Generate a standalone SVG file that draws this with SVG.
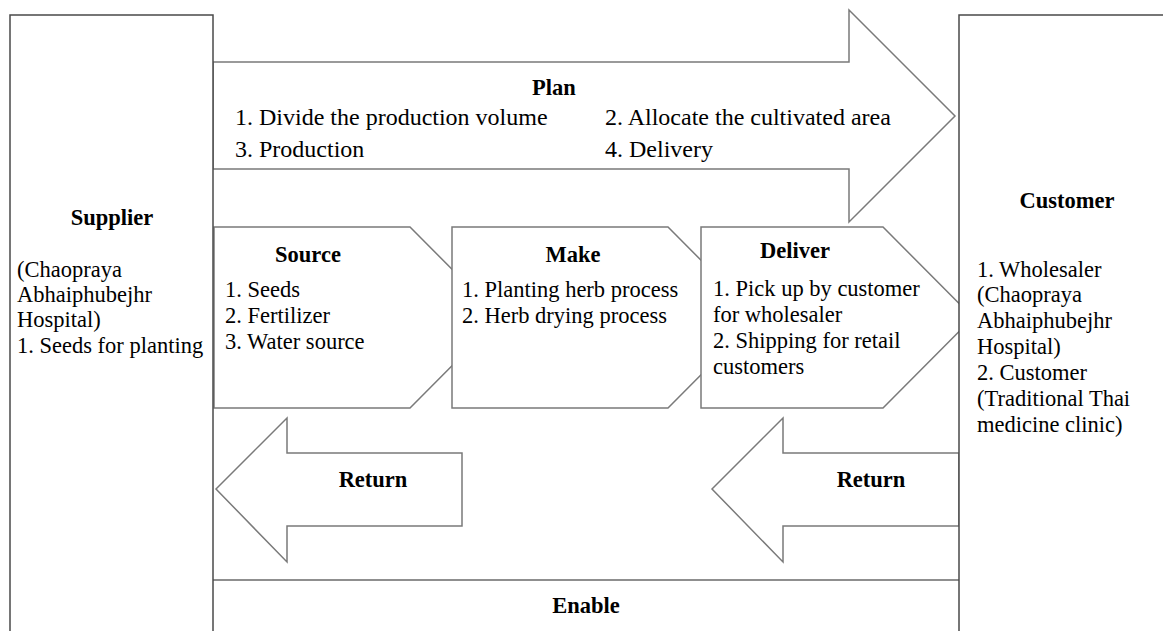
<svg xmlns="http://www.w3.org/2000/svg" width="1163" height="631" viewBox="0 0 1163 631">
<style>
text{font-family:"Liberation Serif","Times New Roman",serif;font-size:22.5px;fill:#000}
.t{font-weight:bold;text-anchor:middle}
.p{font-size:24px}
.sh{fill:#fff;stroke:#7a7a7a;stroke-width:1.5}
.bx{fill:#fff;stroke:#4a4a4a;stroke-width:1.5}
.ln{stroke:#6a6a6a;stroke-width:1.5;fill:none}
</style>
<rect width="1163" height="631" fill="#fff"/>
<g id="connectors">
<line class="ln" x1="213" y1="580" x2="959" y2="580"/>
</g>
<g id="plan">
<polygon class="sh" points="213,62 849,62 849,10 955,116 849,222 849,169 213,169"/>
<text class="t" x="554" y="95">Plan</text>
<text class="p" x="235" y="125">1. Divide the production volume</text>
<text class="p" x="235" y="157">3. Production</text>
<text class="p" x="605" y="125">2. Allocate the cultivated area</text>
<text class="p" x="605" y="157">4. Delivery</text>
</g>
<g id="source">
<polygon class="sh" points="214,227 410,227 500,317.5 410,408 214,408"/>
<text class="t" x="308" y="262">Source</text>
<text x="225" y="297">1. Seeds</text>
<text x="225" y="323">2. Fertilizer</text>
<text x="225" y="349">3. Water source</text>
</g>
<g id="make">
<polygon class="sh" points="452,227 668,227 758,317.5 668,408 452,408"/>
<text class="t" x="573" y="262">Make</text>
<text x="462" y="297">1. Planting herb process</text>
<text x="462" y="323">2. Herb drying process</text>
</g>
<g id="deliver">
<polygon class="sh" points="701,227 883,227 973,317.5 883,408 701,408"/>
<text class="t" x="795" y="258">Deliver</text>
<text x="713" y="296">1. Pick up by customer</text>
<text x="713" y="322">for wholesaler</text>
<text x="713" y="348">2. Shipping for retail</text>
<text x="713" y="374">customers</text>
</g>
<g id="return-left">
<polygon class="sh" points="216,489 287,418 287,453 462,453 462,526 287,526 287,562"/>
<text class="t" x="373" y="487">Return</text>
</g>
<g id="return-right">
<polygon class="sh" points="712,489 783,418 783,453 959,453 959,526 783,526 783,562"/>
<text class="t" x="871" y="487">Return</text>
</g>
<g id="enable">
<text class="t" x="586" y="613">Enable</text>
</g>
<g id="supplier">
<rect class="bx" x="10" y="15" width="203" height="640"/>
<text class="t" x="112" y="225">Supplier</text>
<text x="17" y="277">(Chaopraya</text>
<text x="17" y="302">Abhaiphubejhr</text>
<text x="17" y="327">Hospital)</text>
<text x="17" y="353">1. Seeds for planting</text>
</g>
<g id="customer">
<rect class="bx" x="959" y="15" width="220" height="640"/>
<text class="t" x="1067" y="208">Customer</text>
<text x="977" y="277">1. Wholesaler</text>
<text x="977" y="302">(Chaopraya</text>
<text x="977" y="328">Abhaiphubejhr</text>
<text x="977" y="354">Hospital)</text>
<text x="977" y="380">2. Customer</text>
<text x="977" y="406">(Traditional Thai</text>
<text x="977" y="432">medicine clinic)</text>
</g>
</svg>
